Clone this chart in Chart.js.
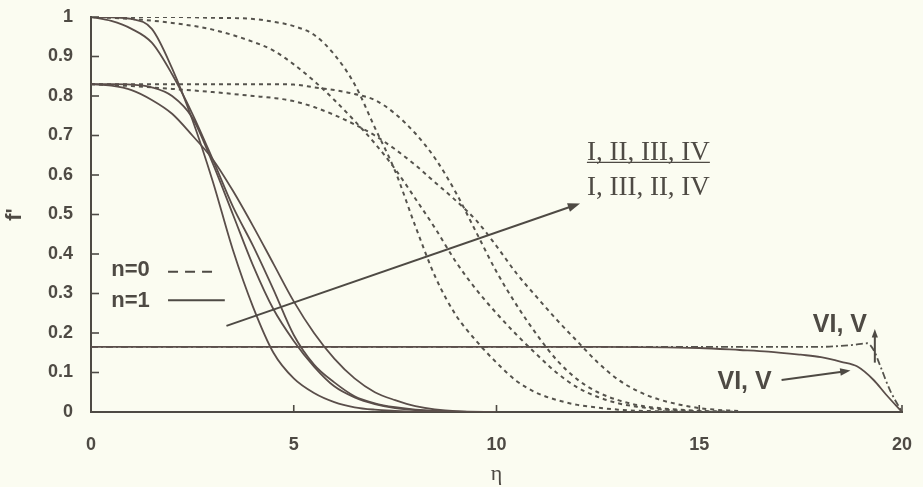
<!DOCTYPE html>
<html>
<head>
<meta charset="utf-8">
<script src="https://cdn.jsdelivr.net/npm/chart.js@4.4.1/dist/chart.umd.min.js"></script>
<style>
body{margin:0;background:#fbfcf1;}
#wrap{width:923px;height:487px;}
</style>
</head>
<body>
<div id="wrap"><canvas id="myChart"></canvas></div>
<script>
// n=1 (solid) profiles
const etaSolid = [0, 0.5, 1, 1.5, 2, 2.5, 3, 3.5, 4, 4.5, 5, 5.5, 6, 6.5, 7, 7.5, 8, 9, 10];
const fSolidI   = [1, 0.999, 0.995, 0.97, 0.87, 0.74, 0.585, 0.41, 0.265, 0.15, 0.085, 0.048, 0.025, 0.012, 0.006, 0.003, 0.001, 0, 0];
const fSolidII  = [1, 0.99, 0.97, 0.935, 0.855, 0.755, 0.64, 0.52, 0.42, 0.31, 0.195, 0.12, 0.075, 0.04, 0.022, 0.012, 0.006, 0.001, 0];
const fSolidIII = [0.83, 0.83, 0.829, 0.822, 0.8, 0.745, 0.63, 0.5, 0.37, 0.26, 0.18, 0.115, 0.065, 0.037, 0.02, 0.01, 0.005, 0.001, 0];
const fSolidIV  = [0.83, 0.826, 0.815, 0.79, 0.755, 0.7, 0.64, 0.56, 0.47, 0.375, 0.28, 0.2, 0.135, 0.085, 0.05, 0.03, 0.015, 0.002, 0];

// n=0 (dashed) profiles
const etaDashed = [0, 1, 2, 3, 4, 4.5, 5, 5.5, 6, 6.5, 7, 7.5, 8, 8.5, 9, 9.5, 10, 10.5, 11, 11.5, 12, 12.5, 13, 13.5, 14, 15, 16];
const fDashedI   = [1, 1, 1, 0.998, 0.995, 0.988, 0.977, 0.955, 0.905, 0.83, 0.72, 0.61, 0.47, 0.34, 0.245, 0.18, 0.125, 0.078, 0.048, 0.03, 0.018, 0.011, 0.006, 0.003, 0.002, 0, 0];
const fDashedII  = [1, 0.995, 0.985, 0.968, 0.937, 0.915, 0.88, 0.838, 0.79, 0.737, 0.68, 0.615, 0.54, 0.463, 0.38, 0.31, 0.25, 0.195, 0.145, 0.098, 0.062, 0.038, 0.022, 0.013, 0.007, 0.002, 0];
const fDashedIII = [0.83, 0.83, 0.83, 0.83, 0.83, 0.83, 0.829, 0.822, 0.815, 0.805, 0.79, 0.755, 0.705, 0.64, 0.555, 0.455, 0.355, 0.27, 0.195, 0.13, 0.082, 0.05, 0.03, 0.017, 0.01, 0.003, 0];
const fDashedIV  = [0.83, 0.825, 0.818, 0.81, 0.8, 0.795, 0.787, 0.772, 0.752, 0.728, 0.7, 0.665, 0.625, 0.58, 0.535, 0.485, 0.42, 0.35, 0.29, 0.232, 0.178, 0.125, 0.082, 0.052, 0.032, 0.01, 0.002];

// cases VI, V
const etaVIsolid = [0, 5, 10, 12.5, 15, 16, 16.7, 17.5, 18, 18.5, 18.9, 19.3, 19.6, 20];
const fVIsolid   = [0.165, 0.165, 0.165, 0.165, 0.162, 0.157, 0.153, 0.145, 0.139, 0.127, 0.115, 0.081, 0.045, 0];
const etaVIdashdot = [0, 5, 10, 15, 18, 18.8, 19.14, 19.3, 19.47, 19.7, 20];
const fVIdashdot   = [0.165, 0.165, 0.165, 0.165, 0.165, 0.17, 0.174, 0.157, 0.115, 0.056, 0];

const xTickStep = 5;
const yTickStep = 0.1;

const ink = '#4e4a44';

function pts(xs, ys){
  return xs.map((v, i) => ({x: v, y: ys[i]}));
}

function solid(xs, ys){
  return {data: pts(xs, ys), borderColor: '#5a4e4a', borderWidth: 1.8, pointRadius: 0, cubicInterpolationMode: 'monotone', fill: false};
}
function dashed(xs, ys){
  return {data: pts(xs, ys), borderColor: '#55534d', borderWidth: 2, borderDash: [4, 4], pointRadius: 0, cubicInterpolationMode: 'monotone', fill: false};
}

function arrow(ctx, x1, y1, x2, y2, size){
  const a = Math.atan2(y2 - y1, x2 - x1);
  ctx.beginPath();
  ctx.moveTo(x1, y1);
  ctx.lineTo(x2 - Math.cos(a) * size * 0.6, y2 - Math.sin(a) * size * 0.6);
  ctx.stroke();
  ctx.beginPath();
  ctx.moveTo(x2, y2);
  ctx.lineTo(x2 - size * Math.cos(a - 0.35), y2 - size * Math.sin(a - 0.35));
  ctx.lineTo(x2 - size * Math.cos(a + 0.35), y2 - size * Math.sin(a + 0.35));
  ctx.closePath();
  ctx.fill();
}

const overlay = {
  id: 'overlay',
  afterDraw(chart){
    const ctx = chart.ctx;
    const x = chart.scales.x, y = chart.scales.y;
    const px = v => x.getPixelForValue(v);
    const py = v => y.getPixelForValue(v);
    ctx.save();
    ctx.strokeStyle = ink;
    ctx.fillStyle = ink;
    ctx.lineWidth = 1.6;

    // tick marks pointing inside
    y.ticks.forEach(t => {
      if (t.value === 0) return;
      ctx.beginPath(); ctx.moveTo(x.left, py(t.value)); ctx.lineTo(x.left + 8, py(t.value)); ctx.stroke();
    });
    x.ticks.forEach(t => {
      if (t.value === 0) return;
      ctx.beginPath(); ctx.moveTo(px(t.value), y.bottom); ctx.lineTo(px(t.value), y.bottom - 7); ctx.stroke();
    });

    // legend n=0 / n=1
    ctx.font = 'bold 22px "Liberation Sans", Arial, sans-serif';
    ctx.textBaseline = 'middle';
    ctx.textAlign = 'left';
    ctx.fillText('n=0', px(0.5), py(0.36));
    ctx.fillText('n=1', px(0.5), py(0.28));
    ctx.lineWidth = 2;
    ctx.setLineDash([10, 7]);
    ctx.beginPath(); ctx.moveTo(px(1.9), py(0.355)); ctx.lineTo(px(3.1), py(0.355)); ctx.stroke();
    ctx.setLineDash([]);
    ctx.beginPath(); ctx.moveTo(px(1.9), py(0.283)); ctx.lineTo(px(3.3), py(0.283)); ctx.stroke();

    // main arrow and case order labels
    ctx.lineWidth = 2;
    arrow(ctx, px(3.34), py(0.218), px(12.06), py(0.528), 13);
    ctx.font = '27px "Liberation Serif", "Times New Roman", serif';
    ctx.textBaseline = 'alphabetic';
    ctx.fillText('I, II, III, IV', px(12.23), py(0.638));
    const w = ctx.measureText('I, II, III, IV').width;
    ctx.lineWidth = 1.3;
    ctx.beginPath(); ctx.moveTo(px(12.23), py(0.632)); ctx.lineTo(px(12.23) + w, py(0.632)); ctx.stroke();
    ctx.fillText('I, III, II, IV', px(12.23), py(0.549));

    // VI, V labels
    ctx.font = 'bold 25px "Liberation Sans", Arial, sans-serif';
    ctx.textBaseline = 'middle';
    ctx.fillText('VI, V', px(15.45), py(0.075));
    ctx.fillText('VI, V', px(17.8), py(0.22));
    ctx.lineWidth = 2;
    arrow(ctx, px(17.03), py(0.081), px(18.73), py(0.105), 11);
    arrow(ctx, px(19.33), py(0.125), px(19.33), py(0.21), 9);
    ctx.restore();
  }
};

const ctx = document.getElementById('myChart').getContext('2d');
const myChart = new Chart(ctx, {
  type: 'line',
  data: {
    datasets: [
      solid(etaSolid, fSolidI),
      solid(etaSolid, fSolidII),
      solid(etaSolid, fSolidIII),
      solid(etaSolid, fSolidIV),
      dashed(etaDashed, fDashedI),
      dashed(etaDashed, fDashedII),
      dashed(etaDashed, fDashedIII),
      dashed(etaDashed, fDashedIV),
      solid(etaVIsolid, fVIsolid),
      {data: pts(etaVIdashdot, fVIdashdot), borderColor: '#55534d', borderWidth: 1.8, borderDash: [7, 3, 2, 3], pointRadius: 0, cubicInterpolationMode: 'monotone', fill: false}
    ]
  },
  options: {
    responsive: true,
    maintainAspectRatio: false,
    animation: false,
    layout: {padding: {top: 17, right: 21, left: 0, bottom: 0}},
    plugins: {legend: {display: false}, tooltip: {enabled: false}},
    scales: {
      x: {
        type: 'linear',
        min: 0, max: 20,
        afterFit: s => { s.height = 75; },
        ticks: {stepSize: xTickStep, padding: 0, color: ink, font: {family: '"Liberation Sans", Arial, sans-serif', size: 18, weight: 'bold'}},
        grid: {drawOnChartArea: false, drawTicks: true, tickLength: 22, tickColor: 'rgba(0,0,0,0)'},
        border: {color: ink, width: 2},
        title: {display: true, text: 'η', color: ink, padding: {top: 0, bottom: 0}, font: {family: '"Liberation Serif", serif', size: 22}}
      },
      y: {
        min: 0, max: 1,
        afterFit: s => { s.width = 91; },
        ticks: {stepSize: yTickStep, padding: 0, color: ink, font: {family: '"Liberation Sans", Arial, sans-serif', size: 18, weight: 'bold'},
          callback: v => String(Math.round(v * 10) / 10)},
        grid: {drawOnChartArea: false, drawTicks: true, tickLength: 18, tickColor: 'rgba(0,0,0,0)'},
        border: {color: ink, width: 2},
        title: {display: true, text: "f'", color: ink, padding: {top: 2, bottom: 0}, font: {family: '"Liberation Sans", Arial, sans-serif', size: 22, weight: 'bold'}}
      }
    }
  },
  plugins: [overlay]
});
</script>
</body>
</html>
